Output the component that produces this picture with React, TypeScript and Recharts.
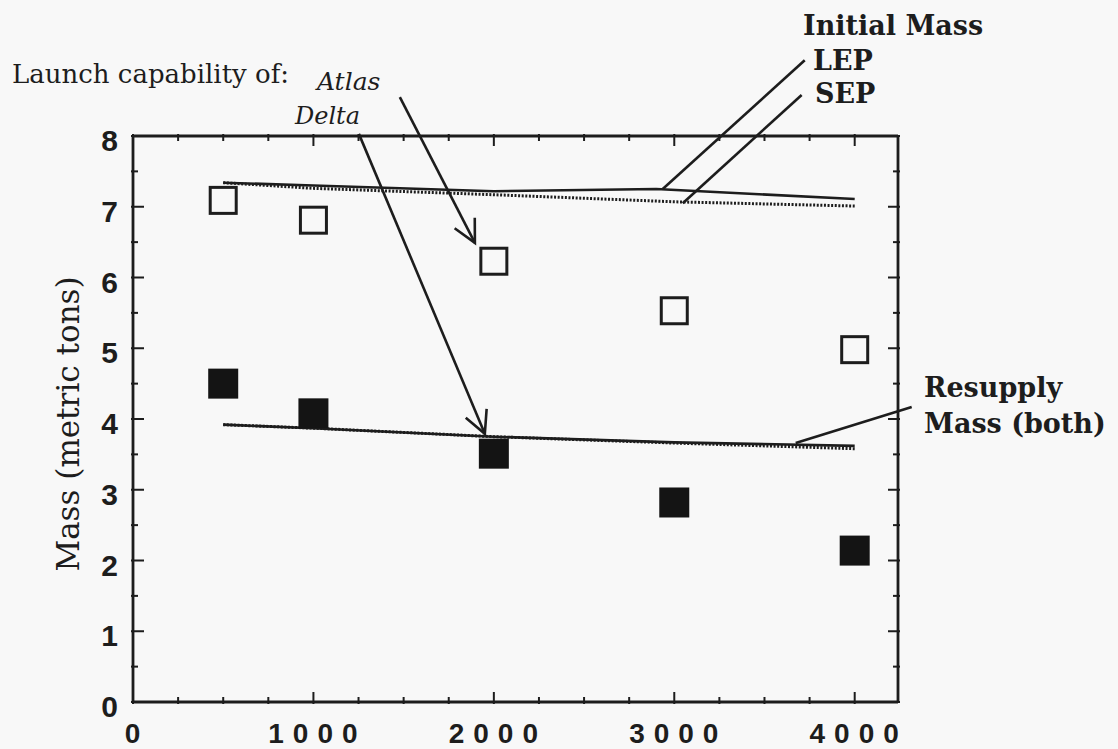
import React from 'react';
import { ComposedChart, Scatter, XAxis, YAxis, ReferenceLine } from 'recharts';

const INK = '#1d1d1d';
const BG = '#f8f8f8';
const SERIF = '"DejaVu Serif", "Liberation Serif", serif';
const SANS = '"Liberation Sans", Arial, sans-serif';

// Launch capability (metric tons) vs. distance
const distance = [500, 1000, 2000, 3000, 4000];
const atlasMass = [7.09, 6.81, 6.23, 5.53, 4.98];
const deltaMass = [4.5, 4.08, 3.51, 2.82, 2.14];

// Initial mass curves
const lepInitialX = [500, 1000, 2000, 2900, 4000];
const lepInitialMass = [7.34, 7.3, 7.22, 7.25, 7.11];
const sepInitialX = [500, 1000, 2000, 3000, 4000];
const sepInitialMass = [7.34, 7.26, 7.17, 7.07, 7.01];

// Resupply mass curves
const resupplyX = [500, 1000, 2000, 3000, 4000];
const lepResupplyMass = [3.92, 3.87, 3.75, 3.67, 3.62];
const sepResupplyMass = [3.92, 3.87, 3.75, 3.66, 3.58];

// Axis ticks
const xTicks = [0, 250, 500, 750, 1000, 1250, 1500, 1750, 2000, 2250, 2500, 2750, 3000, 3250, 3500, 3750, 4000];
const xTickLabels = [0, 1000, 2000, 3000, 4000];
const yTicks = [0, 0.5, 1, 1.5, 2, 2.5, 3, 3.5, 4, 4.5, 5, 5.5, 6, 6.5, 7, 7.5, 8];
const yTickLabels = [0, 1, 2, 3, 4, 5, 6, 7, 8];

// Annotation pointers (data coordinates)
const atlasArrow = [{ x: 1479, y: 8.55 }, { x: 1895, y: 6.49 }];
const deltaArrow = [{ x: 1252, y: 8.03 }, { x: 1950, y: 3.79 }];
const lepLeader = [{ x: 3723, y: 9.07 }, { x: 2936, y: 7.25 }];
const sepLeader = [{ x: 3706, y: 8.58 }, { x: 3047, y: 7.05 }];
const resupplyLeader = [{ x: 4316, y: 4.17 }, { x: 3673, y: 3.66 }];

const toPoints = (xs: number[], ys: number[]) => xs.map((x, i) => ({ x, y: ys[i] }));

const atlasData = toPoints(distance, atlasMass);
const deltaData = toPoints(distance, deltaMass);
const lepInitialData = toPoints(lepInitialX, lepInitialMass);
const sepInitialData = toPoints(sepInitialX, sepInitialMass);
const lepResupplyData = toPoints(resupplyX, lepResupplyMass);
const sepResupplyData = toPoints(resupplyX, sepResupplyMass);

const OpenSquare = (p: any) => (
  <rect x={p.cx - 13} y={p.cy - 13} width={26} height={26} fill="none" stroke={INK} strokeWidth={3} />
);
const FilledSquare = (p: any) => (
  <rect x={p.cx - 15} y={p.cy - 15} width={30} height={30} fill="#141414" />
);
const NoShape = () => <g />;

const BottomTick = (p: any) => {
  const v = p.payload.value;
  const major = xTickLabels.includes(v);
  return (
    <g>
      <line x1={p.x} x2={p.x} y1={p.y} y2={p.y - (major ? 12 : 7)} stroke={INK} strokeWidth={2} />
      {major && (
        <text x={p.x + 4} y={p.y + 39} textAnchor="middle" fontFamily={SANS} fontWeight="bold" fontSize={28} letterSpacing={9} fill={INK}>
          {v}
        </text>
      )}
    </g>
  );
};
const TopTick = (p: any) => {
  const v = p.payload.value;
  const major = xTickLabels.includes(v);
  return <line x1={p.x} x2={p.x} y1={p.y} y2={p.y + (major ? 12 : 7)} stroke={INK} strokeWidth={2} />;
};
const LeftTick = (p: any) => {
  const v = p.payload.value;
  const major = yTickLabels.includes(v);
  return (
    <g>
      <line x1={p.x} x2={p.x + (major ? 13 : 7)} y1={p.y} y2={p.y} stroke={INK} strokeWidth={2} />
      {major && (
        <text x={p.x - 13} y={p.y + 15} textAnchor="end" fontFamily={SANS} fontWeight="bold" fontSize={30} fill={INK}>
          {v}
        </text>
      )}
    </g>
  );
};
const RightTick = (p: any) => {
  const v = p.payload.value;
  const major = yTickLabels.includes(v);
  return <line x1={p.x} x2={p.x - (major ? 12 : 7)} y1={p.y} y2={p.y} stroke={INK} strokeWidth={2} />;
};

const ArrowShape = (p: any) => {
  const { x1, y1, x2, y2 } = p;
  const a = Math.atan2(y1 - y2, x1 - x2);
  const L = 25;
  const s = 0.47;
  const ax = x2 + L * Math.cos(a - s);
  const ay = y2 + L * Math.sin(a - s);
  const bx = x2 + L * Math.cos(a + s);
  const by = y2 + L * Math.sin(a + s);
  return (
    <g>
      <line x1={x1} y1={y1} x2={x2} y2={y2} stroke={INK} strokeWidth={2.6} />
      <polyline points={`${ax},${ay} ${x2},${y2} ${bx},${by}`} fill="none" stroke={INK} strokeWidth={2.6} />
    </g>
  );
};
const LeaderShape = (p: any) => (
  <line x1={p.x1} y1={p.y1} x2={p.x2} y2={p.y2} stroke={INK} strokeWidth={2.6} />
);

const axisLine = { stroke: INK, strokeWidth: 2.8 };
const solidLine = { stroke: INK, strokeWidth: 2.6 };
const dottedLine = { stroke: INK, strokeWidth: 3, strokeDasharray: '2 1.6' };

export default function App() {
  return (
    <div style={{ position: 'absolute', left: 0, top: 0, width: 1118, height: 749, background: BG }}>
      <ComposedChart width={1118} height={749} margin={{ top: 126, right: 210, bottom: 7, left: 73 }}>
        <XAxis type="number" dataKey="x" domain={[0, 4240]} ticks={xTicks} interval={0} allowDataOverflow
          tick={<BottomTick />} tickLine={false} tickSize={0} axisLine={axisLine} height={40} />
        <XAxis xAxisId="top" orientation="top" type="number" dataKey="x" domain={[0, 4240]} ticks={xTicks} interval={0} allowDataOverflow
          tick={<TopTick />} tickLine={false} tickSize={0} axisLine={axisLine} height={10} />
        <YAxis type="number" dataKey="y" domain={[0, 8]} ticks={yTicks} interval={0} allowDataOverflow
          tick={<LeftTick />} tickLine={false} tickSize={0} axisLine={axisLine} width={60} />
        <YAxis yAxisId="right" orientation="right" type="number" dataKey="y" domain={[0, 8]} ticks={yTicks} interval={0} allowDataOverflow
          tick={<RightTick />} tickLine={false} tickSize={0} axisLine={axisLine} width={10} />

        <Scatter xAxisId="top" yAxisId="right" data={atlasData} shape={NoShape} isAnimationActive={false} />

        <Scatter data={sepInitialData} line={dottedLine} shape={NoShape} isAnimationActive={false} />
        <Scatter data={lepInitialData} line={solidLine} shape={NoShape} isAnimationActive={false} />
        <Scatter data={sepResupplyData} line={dottedLine} shape={NoShape} isAnimationActive={false} />
        <Scatter data={lepResupplyData} line={solidLine} shape={NoShape} isAnimationActive={false} />

        <Scatter data={atlasData} shape={OpenSquare} isAnimationActive={false} />
        <Scatter data={deltaData} shape={FilledSquare} isAnimationActive={false} />

        <ReferenceLine segment={atlasArrow} ifOverflow="visible" shape={ArrowShape} />
        <ReferenceLine segment={deltaArrow} ifOverflow="visible" shape={ArrowShape} />
        <ReferenceLine segment={lepLeader} ifOverflow="visible" shape={LeaderShape} />
        <ReferenceLine segment={sepLeader} ifOverflow="visible" shape={LeaderShape} />
        <ReferenceLine segment={resupplyLeader} ifOverflow="visible" shape={LeaderShape} />
      </ComposedChart>

      <svg width={1118} height={749} style={{ position: 'absolute', left: 0, top: 0, pointerEvents: 'none' }}>
        <g fill={INK}>
          <text x={12} y={83} fontFamily={SERIF} fontSize={26}>Launch capability of:</text>
          <text x={317} y={90} fontFamily={SERIF} fontStyle="italic" fontSize={25}>Atlas</text>
          <text x={295} y={124} fontFamily={SERIF} fontStyle="italic" fontSize={24}>Delta</text>
          <text x={803} y={35} fontFamily={SERIF} fontWeight="bold" fontSize={27}>Initial Mass</text>
          <text x={813} y={70} fontFamily={SERIF} fontWeight="bold" fontSize={27}>LEP</text>
          <text x={815} y={103} fontFamily={SERIF} fontWeight="bold" fontSize={27}>SEP</text>
          <text x={924} y={397} fontFamily={SERIF} fontWeight="bold" fontSize={27}>Resupply</text>
          <text x={924} y={433} fontFamily={SERIF} fontWeight="bold" fontSize={27}>Mass (both)</text>
          <text transform="translate(79, 424) rotate(-90)" textAnchor="middle" fontFamily={SERIF} fontSize={31}>
            Mass (metric tons)
          </text>
        </g>
      </svg>
    </div>
  );
}
